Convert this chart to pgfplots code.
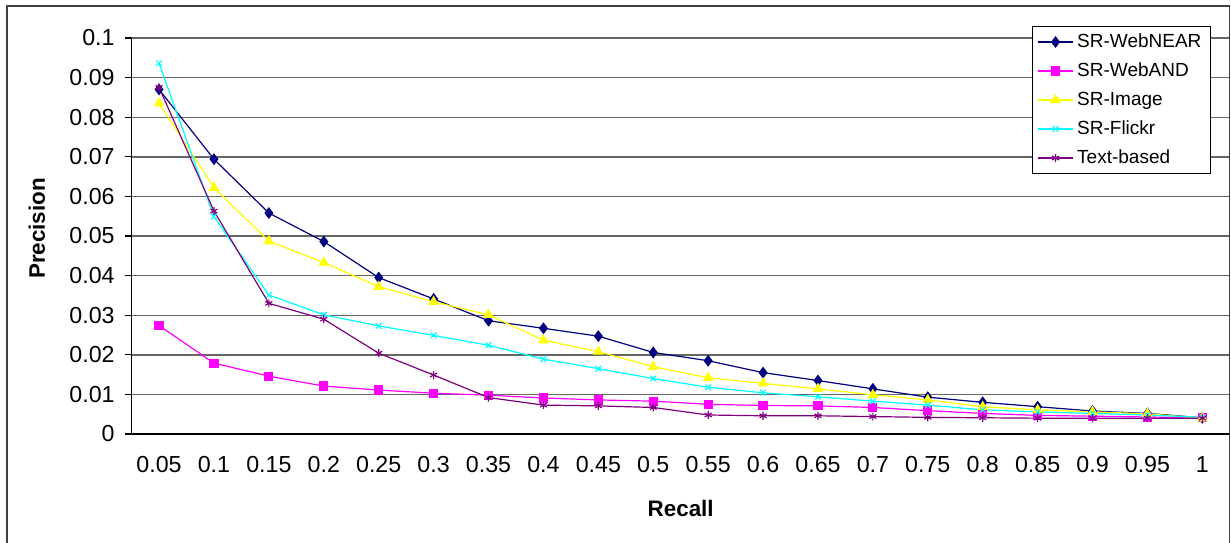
\documentclass[border=0pt]{standalone}
\usepackage{fontspec}
\setmainfont{Liberation Sans}
\usepackage{pgfplots}
\usepackage{pgfplotstable}
\pgfplotsset{compat=1.18}
\definecolor{cNear}{RGB}{0,0,128}
\definecolor{cAnd}{RGB}{255,0,255}
\definecolor{cImg}{RGB}{255,255,0}
\definecolor{cFlk}{RGB}{0,255,255}
\definecolor{cTxt}{RGB}{128,0,128}
\pgfplotstableread{
x near and image flickr text
0  0.0870 0.0274 0.0835 0.0936 0.0875
1  0.0694 0.0179 0.0622 0.0549 0.0563
2  0.0558 0.0146 0.0487 0.0351 0.0330
3  0.0486 0.0121 0.0433 0.0301 0.0290
4  0.0395 0.0111 0.0372 0.0273 0.0204
5  0.0341 0.0103 0.0334 0.0249 0.0149
6  0.0286 0.0098 0.0301 0.0224 0.0092
7  0.0267 0.0091 0.0237 0.0189 0.0073
8  0.0247 0.0086 0.0208 0.0165 0.0071
9  0.0206 0.0083 0.0170 0.0140 0.0067
10 0.0185 0.0075 0.0142 0.0118 0.0048
11 0.0155 0.0072 0.0128 0.0104 0.0046
12 0.0135 0.0071 0.0114 0.0094 0.0046
13 0.0114 0.0067 0.0099 0.0083 0.0044
14 0.0093 0.0059 0.0086 0.0073 0.0042
15 0.0080 0.0052 0.0069 0.0061 0.0041
16 0.0069 0.0047 0.0061 0.0056 0.0040
17 0.0058 0.0045 0.0056 0.0052 0.0040
18 0.0052 0.0043 0.0051 0.0048 0.0040
19 0.0041 0.0041 0.0040 0.0042 0.0040
}\data
\begin{document}
\begin{tikzpicture}
\useasboundingbox (-65.8pt,-54pt) rectangle (549.7pt,217pt);
\fill[white] (-65.8pt,-54pt) rectangle (549.7pt,217pt);
\begin{axis}[
  scale only axis, width=549.1pt, height=198pt,
  xmin=-0.5, xmax=19.5, ymin=0, ymax=0.1,
  axis x line*=bottom, axis y line*=left,
  axis line style={black, line width=0.6pt},
  xtick={0,...,19},
  xticklabels={0.05,0.1,0.15,0.2,0.25,0.3,0.35,0.4,0.45,0.5,0.55,0.6,0.65,0.7,0.75,0.8,0.85,0.9,0.95,1},
  minor xtick={-0.5,0.5,...,19.5},
  xtick style={draw=none},
  minor x tick style={black, line width=0.6pt},
  ytick={0,0.01,...,0.1},
  yticklabels={0,0.01,0.02,0.03,0.04,0.05,0.06,0.07,0.08,0.09,0.1},
  ytick style={black, line width=0.6pt},
  tick align=outside,
  major tick length=3.5pt, minor tick length=3.5pt,
  ymajorgrids,
  major grid style={black!60, line width=0.7pt},
  /pgf/number format/assume math mode=true,
  ticklabel style={font=\fontsize{11.6}{13}\selectfont},
  xticklabel style={anchor=north, inner sep=0pt, yshift=-7.6pt},
  yticklabel style={anchor=east, inner sep=0pt, xshift=-4.8pt},
  xlabel={\textbf{Recall}},
  ylabel={\textbf{Precision}},
  label style={font=\fontsize{11.2}{13}\selectfont},
  xlabel style={at={(axis description cs:0.5,-0.187)}, anchor=center},
  ylabel style={at={(axis description cs:-0.0862,0.519)}, anchor=center, rotate=0},
  legend style={at={(0.9828,1.0303)}, anchor=north east, draw=black, line width=0.5pt, fill=white,
    font=\fontsize{9.5}{11}\selectfont, row sep=0pt, inner xsep=2.5pt, inner ysep=0.5pt,
    nodes={inner ysep=2.75pt, inner xsep=2pt, text height=7pt, text depth=2pt}},
  legend cell align=left,
  every axis plot/.append style={line width=0.6pt},
]
\addplot[cNear, mark=diamond*, mark size=2.5pt] table[x=x,y=near]{\data};
\addlegendentry{SR-WebNEAR}
\addplot[cAnd, mark=square*, mark size=2pt] table[x=x,y=and]{\data};
\addlegendentry{SR-WebAND}
\addplot[cImg, mark=triangle*, mark size=2.5pt] table[x=x,y=image]{\data};
\addlegendentry{SR-Image}
\addplot[cFlk, mark=x, mark size=2pt] table[x=x,y=flickr]{\data};
\addlegendentry{SR-Flickr}
\addplot[cTxt, mark=asterisk, mark size=2pt] table[x=x,y=text]{\data};
\addlegendentry{Text-based}
\end{axis}
\draw[black!75, line width=0.6pt] (-62.3pt,-60pt) -- (-62.3pt,214pt) -- (548.9pt,214pt) -- (548.9pt,-60pt);
\end{tikzpicture}
\end{document}
